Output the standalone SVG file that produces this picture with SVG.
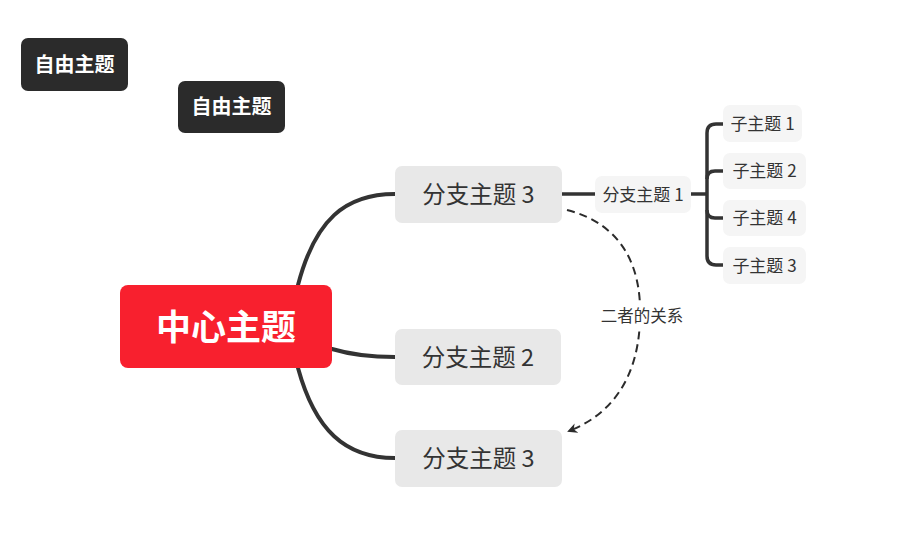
<svg xmlns="http://www.w3.org/2000/svg" width="897" height="535" viewBox="0 0 897 535">
<defs>
<style>
text{font-family:"Noto Sans CJK SC","Noto Sans",sans-serif;dominant-baseline:central;text-anchor:middle}
.free rect{fill:#2B2B2B}
.free text{fill:#fff;font-size:20px;font-weight:bold}
.branch rect{fill:#E8E8E8}
.branch text{fill:#333;font-size:23.5px}
.sub rect{fill:#F5F5F5}
.sub text{fill:#333;font-size:17px}
.line{fill:none;stroke:#333;stroke-width:4;stroke-linecap:round}
.thin{fill:none;stroke:#333;stroke-width:3.5}
.rel{fill:none;stroke:#2B2B2B;stroke-width:2;stroke-dasharray:8 5}
</style>
<marker id="arr" viewBox="0 0 10 10" refX="8" refY="5" markerWidth="5" markerHeight="5" orient="auto-start-reverse" markerUnits="strokeWidth">
<path d="M0,0 L10,5 L0,10 L3,5 Z" fill="#2B2B2B"/>
</marker>
</defs>
<rect width="897" height="535" fill="#fff"/>
<g id="connectors">
<path class="line" d="M298,285 C315,220 345,194 395,194"/>
<path class="line" d="M332,349 C352,355 370,357 395,357"/>
<path class="line" d="M298,368 C315,430 345,458 395,458"/>
<path class="thin" d="M562,194 H595"/>
<path class="thin" d="M691,194 H707"/>
<path class="thin" d="M723,124 H716 Q707,124 707,133 V256 Q707,265 716,265 H723"/>
<path class="thin" d="M707,179 Q707,171 715,171 H723"/>
<path class="thin" d="M707,210 Q707,218 715,218 H723"/>
<path class="rel" d="M567,210 C625,225 642,270 640,320 C638,380 610,415 569,431" marker-end="url(#arr)"/>
<rect x="597" y="303" width="90" height="25" fill="#fff"/>
<text x="642" y="314.5" font-size="16.5" fill="#333">二者的关系</text>
</g>
<g id="free1" class="free"><rect x="21" y="38" width="107" height="53" rx="7"/><text x="74.5" y="63">自由主题</text></g>
<g id="free2" class="free"><rect x="178" y="81" width="107" height="52" rx="7"/><text x="231.5" y="105.5">自由主题</text></g>
<g id="center"><rect x="120" y="285" width="212" height="83" rx="8" fill="#F8202E"/><text x="226" y="324.5" fill="#fff" font-size="35" font-weight="bold">中心主题</text></g>
<g id="branch3a" class="branch"><rect x="395" y="166" width="167" height="57" rx="7"/><text x="478.5" y="193">分支主题 3</text></g>
<g id="branch2" class="branch"><rect x="395" y="329" width="166" height="56" rx="7"/><text x="478" y="355.5">分支主题 2</text></g>
<g id="branch3b" class="branch"><rect x="395" y="430" width="167" height="57" rx="7"/><text x="478.5" y="457">分支主题 3</text></g>
<g id="sub1" class="sub"><rect x="595" y="176" width="96" height="37" rx="7"/><text x="643" y="193">分支主题 1</text></g>
<g id="c1" class="sub"><rect x="723" y="105" width="79" height="37" rx="7"/><text x="762.5" y="122">子主题 1</text></g>
<g id="c2" class="sub"><rect x="723" y="153" width="83" height="36" rx="7"/><text x="764.5" y="169.5">子主题 2</text></g>
<g id="c4" class="sub"><rect x="723" y="200" width="83" height="36" rx="7"/><text x="764.5" y="216.5">子主题 4</text></g>
<g id="c3" class="sub"><rect x="723" y="247" width="83" height="37" rx="7"/><text x="764.5" y="264">子主题 3</text></g>
</svg>
